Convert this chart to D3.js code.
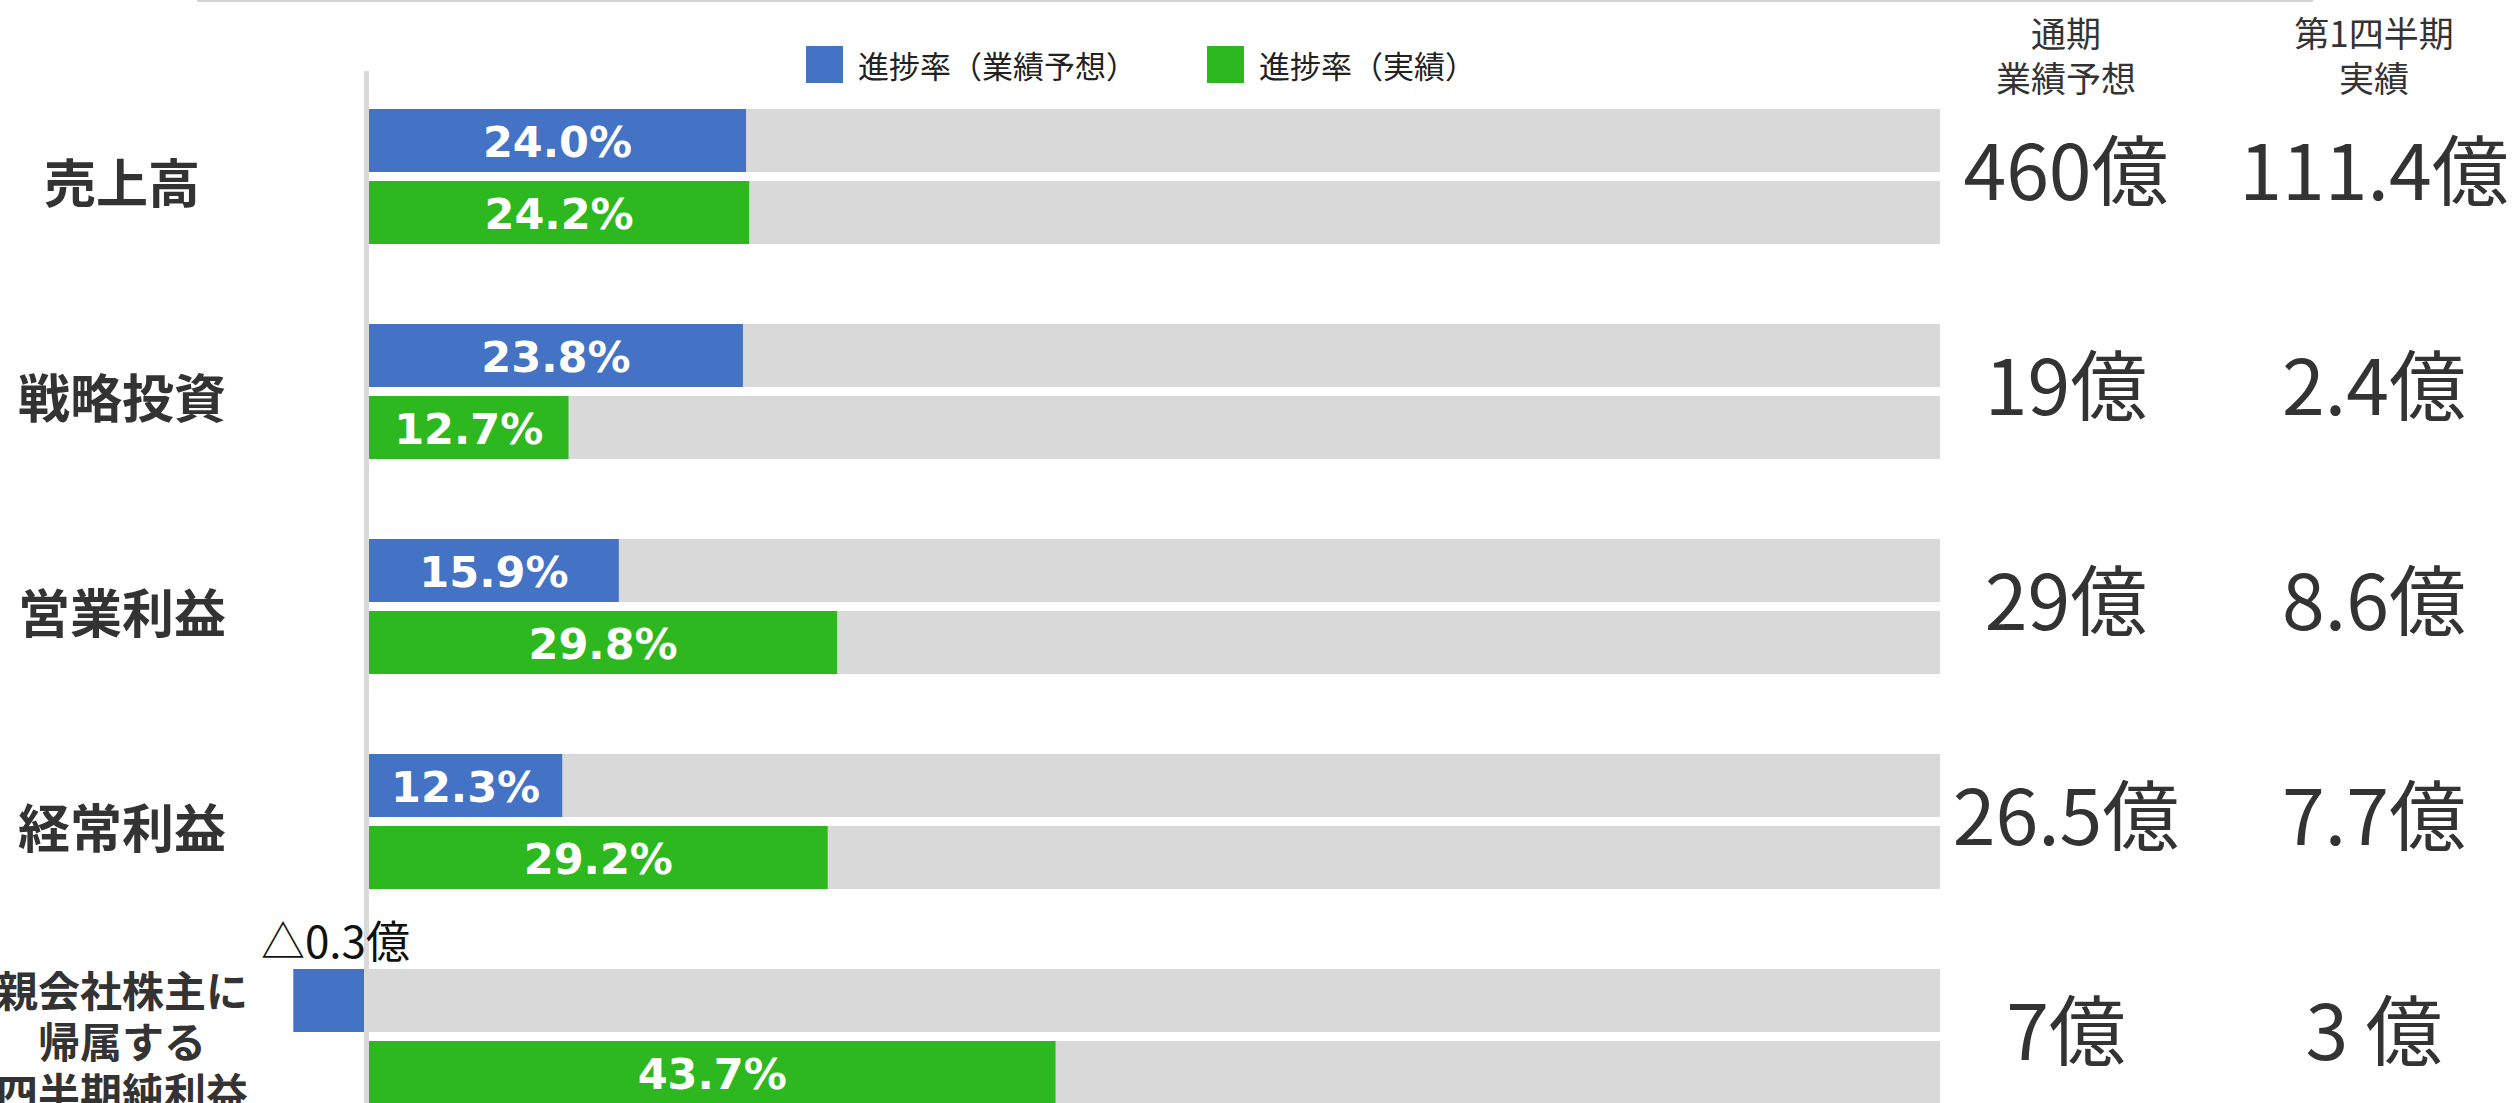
<!DOCTYPE html>
<html lang="ja">
<head>
<meta charset="utf-8">
<script src="https://cdn.jsdelivr.net/npm/d3@7"></script>
<style>
  html, body { margin: 0; padding: 0; background: #fff; }
  svg { display: block; }
</style>
</head>
<body>
<div id="chart"></div>
<script>
// Données
const categories = ['売上高', '戦略投資', '営業利益', '経常利益', '親会社株主に帰属する四半期純利益'];
const categoryLines = [['売上高'], ['戦略投資'], ['営業利益'], ['経常利益'], ['親会社株主に', '帰属する', '四半期純利益']];
const seriesNames = ['進捗率（業績予想）', '進捗率（実績）'];
const forecastRate = [24.0, 23.8, 15.9, 12.3, -4.5];
const actualRate = [24.2, 12.7, 29.8, 29.2, 43.7];
const forecastText = ['24.0%', '23.8%', '15.9%', '12.3%', '△0.3億'];
const actualText = ['24.2%', '12.7%', '29.8%', '29.2%', '43.7%'];
const fullYearForecast = ['460億', '19億', '29億', '26.5億', '7億'];
const q1Actual = ['111.4億', '2.4億', '8.6億', '7.7億', '3 億'];
const columnHeaders = [['通期', '業績予想'], ['第1四半期', '実績']];

const CONFIG = {
  width: 2517,
  height: 1103,
  blue: '#4472c4',
  green: '#2eb820',
  track: '#d9d9d9',
  axis: '#d9d9d9',
  text: '#333333',
  jp: '"Noto Sans CJK JP", "Noto Sans", sans-serif',
  num: '"DejaVu Sans", "Noto Sans CJK JP", sans-serif',
};

const { width: W, height: H } = CONFIG;

const svg = d3.select('#chart').append('svg')
  .attr('width', W).attr('height', H);

// Échelles
const x = d3.scaleLinear().domain([0, 100]).range([369, 1940]);
const y = d3.scaleBand().domain(categories).range([109, 1104]).paddingInner(80 / 215).paddingOuter(0);
const ySub = d3.scaleBand().domain(['forecast', 'actual']).range([0, y.bandwidth()]).paddingInner(9 / 72);

const rows = categories.map((c, i) => ({
  cat: c, lines: categoryLines[i],
  forecast: forecastRate[i], actual: actualRate[i],
  fText: forecastText[i], aText: actualText[i],
  full: fullYearForecast[i], q1: q1Actual[i],
}));

// Ligne grise en haut
svg.append('line')
  .attr('x1', 197).attr('x2', 2313).attr('y1', 1).attr('y2', 1)
  .attr('stroke', '#d4d4d4').attr('stroke-width', 2);

// Légende
const legend = svg.append('g');
[[CONFIG.blue, 806], [CONFIG.green, 1207]].forEach(([col, lx], i) => {
  legend.append('rect').attr('x', lx).attr('y', 46).attr('width', 37).attr('height', 37).attr('fill', col);
  legend.append('text')
    .attr('x', lx + 52).attr('y', 64)
    .attr('dominant-baseline', 'central')
    .style('font-family', CONFIG.jp).style('font-size', '31px').style('fill', '#222')
    .text(seriesNames[i]);
});

// En-têtes de colonnes
const colX = [2066, 2374];
columnHeaders.forEach((lines, ci) => {
  lines.forEach((t, li) => {
    svg.append('text')
      .attr('x', colX[ci]).attr('y', 31 + li * 45)
      .attr('text-anchor', 'middle').attr('dominant-baseline', 'central')
      .style('font-family', CONFIG.jp).style('font-size', '35px').style('fill', CONFIG.text)
      .text(t);
  });
});

const g = svg.append('g');

// Fonds gris
['forecast', 'actual'].forEach(k => {
  g.selectAll('rect.track-' + k).data(rows).join('rect')
    .attr('class', 'track-' + k)
    .attr('x', x(0)).attr('width', x(100) - x(0))
    .attr('y', d => y(d.cat) + ySub(k)).attr('height', ySub.bandwidth())
    .attr('fill', CONFIG.track);
});

// Barres
const series = [['forecast', CONFIG.blue, 'fText'], ['actual', CONFIG.green, 'aText']];
series.forEach(([k, col, tk]) => {
  g.selectAll('rect.bar-' + k).data(rows).join('rect')
    .attr('class', 'bar-' + k)
    .attr('x', d => d[k] >= 0 ? x(0) : x(d[k]) - 5)
    .attr('width', d => Math.abs(x(d[k]) - x(0)))
    .attr('y', d => y(d.cat) + ySub(k)).attr('height', ySub.bandwidth())
    .attr('fill', col);

  g.selectAll('text.lbl-' + k).data(rows.filter(d => d[k] >= 0)).join('text')
    .attr('class', 'lbl-' + k)
    .attr('x', d => (x(0) + x(d[k])) / 2)
    .attr('y', d => y(d.cat) + ySub(k) + ySub.bandwidth() / 2 + 1)
    .attr('text-anchor', 'middle').attr('dominant-baseline', 'central')
    .style('font-family', CONFIG.num).style('font-weight', 'bold').style('font-size', '43px')
    .style('fill', '#fff')
    .text(d => d[tk]);
});

// Axe vertical
g.append('line')
  .attr('x1', x(0) - 2.5).attr('x2', x(0) - 2.5).attr('y1', 71).attr('y2', H)
  .attr('stroke', CONFIG.axis).attr('stroke-width', 5);

// Libellé de la valeur négative (par-dessus l'axe)
rows.filter(d => d.forecast < 0).forEach(d => {
  g.append('text')
    .attr('x', x(0) + 41).attr('y', y(d.cat) - 11)
    .attr('text-anchor', 'end')
    .style('font-family', CONFIG.jp).style('font-size', '44px').style('fill', '#111')
    .text(d.fText);
});

// Libellés des catégories
rows.forEach(d => {
  const cy = y(d.cat) + y.bandwidth() / 2;
  const multi = d.lines.length > 1;
  const fs = multi ? 42 : 52;
  const lh = 51;
  d.lines.forEach((t, li) => {
    svg.append('text')
      .attr('x', 122)
      .attr('y', cy + (multi ? 3 : 4) + (li - (d.lines.length - 1) / 2) * lh)
      .attr('text-anchor', 'middle').attr('dominant-baseline', 'central')
      .style('font-family', CONFIG.jp).style('font-weight', 'bold').style('font-size', fs + 'px')
      .style('fill', CONFIG.text)
      .text(t);
  });
});

// Colonnes de valeurs
[['full', colX[0]], ['q1', colX[1]]].forEach(([k, cx]) => {
  svg.selectAll('text.val-' + k).data(rows).join('text')
    .attr('class', 'val-' + k)
    .attr('x', cx)
    .attr('y', d => y(d.cat) + y.bandwidth() / 2 - 10)
    .attr('text-anchor', 'middle').attr('dominant-baseline', 'central')
    .style('font-family', CONFIG.jp).style('font-size', '77px').style('fill', CONFIG.text)
    .text(d => d[k]);
});
</script>
</body>
</html>
